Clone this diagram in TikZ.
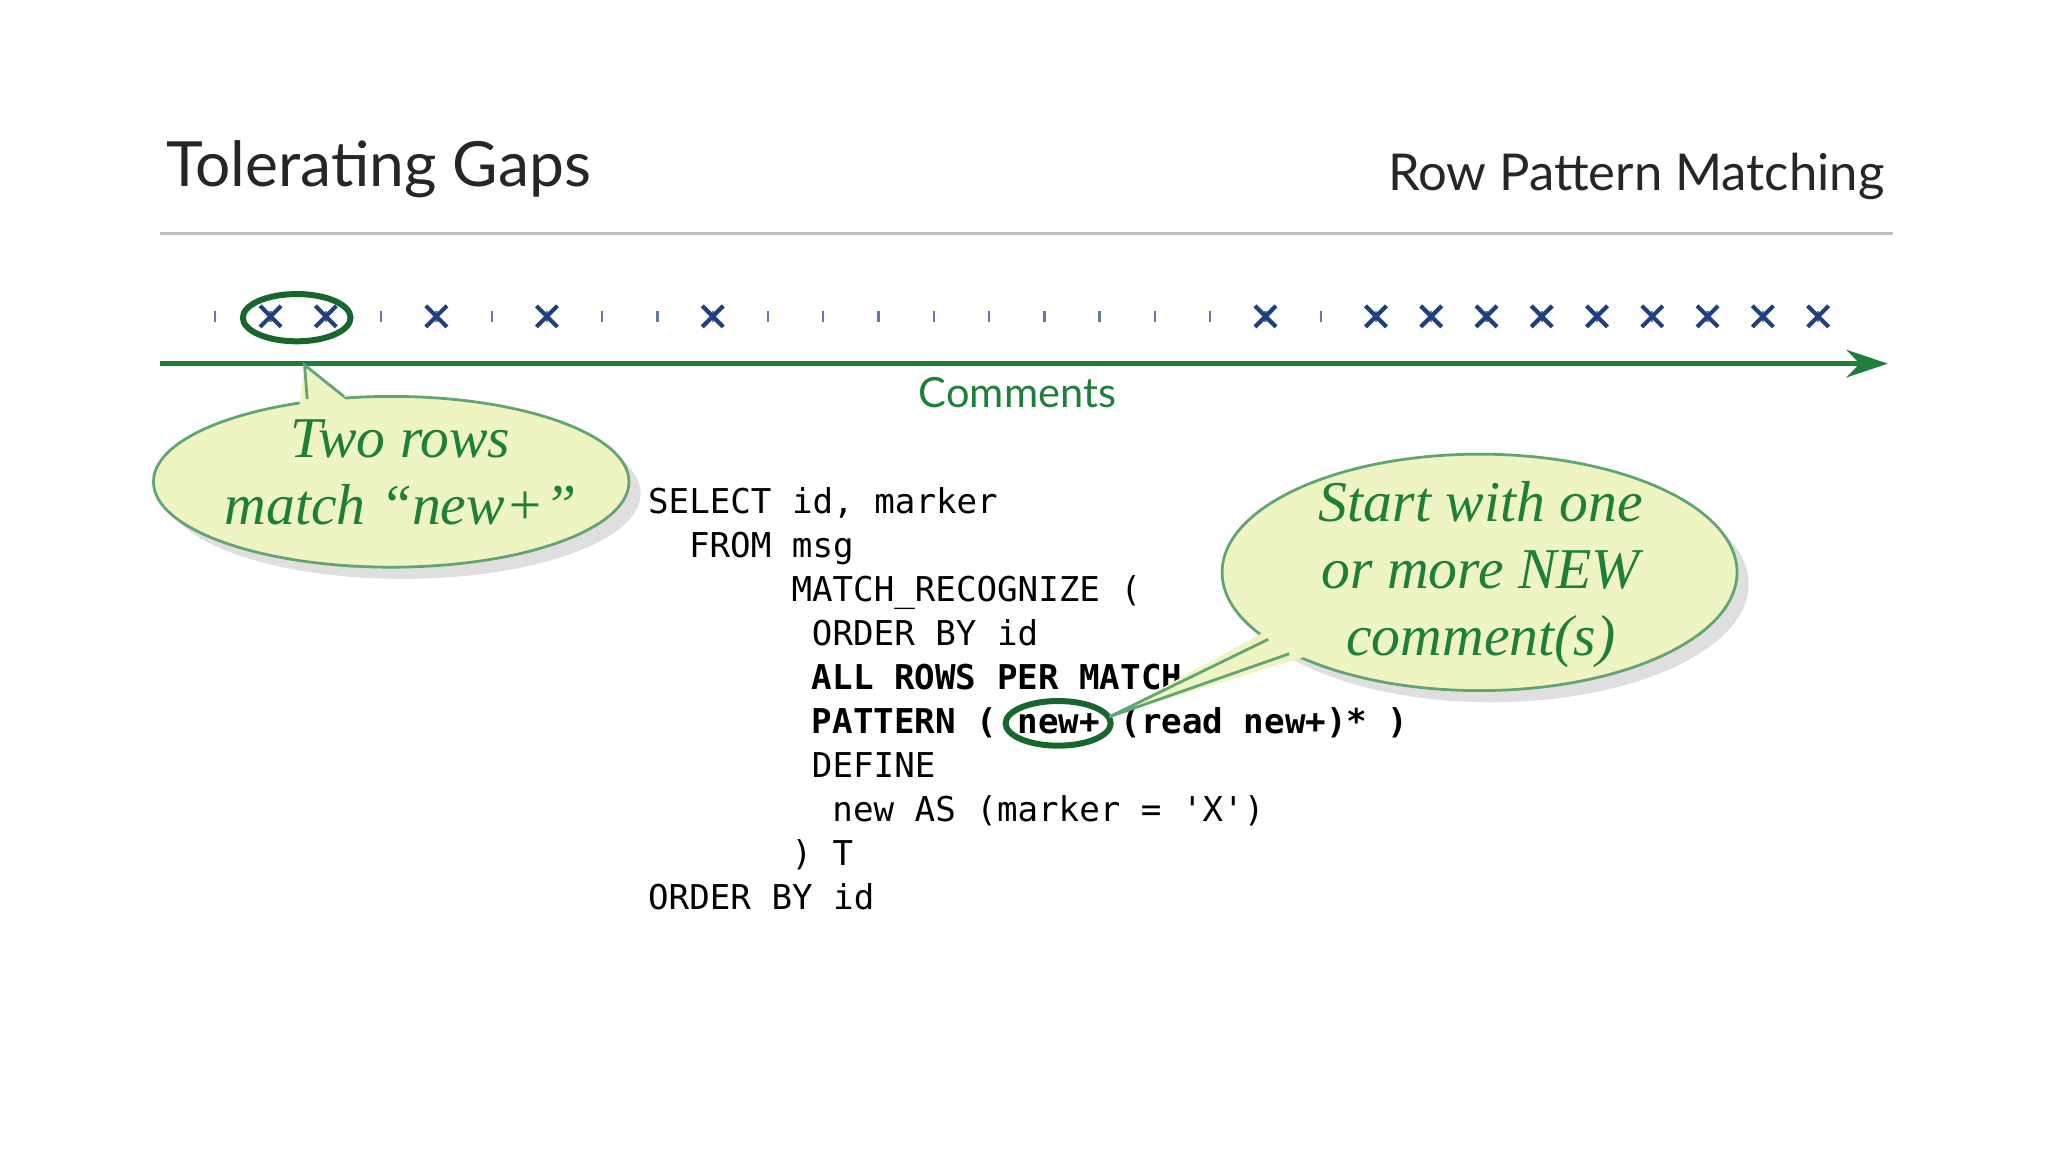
\documentclass[tikz,border=0pt]{standalone}
\usepackage{fontspec}
\setmainfont{Lato}
\setmonofont{DejaVu Sans Mono}
\newfontfamily\handfont{Liberation Serif}
\usetikzlibrary{shapes.geometric,arrows.meta,shadows}
\definecolor{slidegreen}{HTML}{1E7F3A}
\definecolor{markblue}{HTML}{1F3F80}
\definecolor{bubblefill}{HTML}{EEF4C2}

\begin{document}
\begin{tikzpicture}[x=0.01cm,y=-0.01cm,
bubble/.style={ellipse,draw=slidegreen!70,fill=bubblefill,line width=0.6pt,inner sep=0pt,drop shadow={opacity=0.25}},
handtext/.style={text=slidegreen,font=\handfont\itshape\fontsize{12.5}{14.5}\selectfont,align=center},
codeline/.style={anchor=base west,inner sep=0pt,font=\ttfamily\fontsize{7.4}{9}\selectfont},
ring/.style={ellipse,draw=slidegreen!80!black,line width=1.3pt,minimum width=0.82cm,minimum height=0.36cm,inner sep=0pt}]
\useasboundingbox (0,0) rectangle (1560,877);

% titles
\node[anchor=base west,inner sep=0pt,font=\fontsize{13.5}{16}\selectfont,text=black!85] (title) at (126,142) {Tolerating Gaps};
\node[anchor=base east,inner sep=0pt,font=\fontsize{11}{14}\selectfont,text=black!85] (subtitle) at (1436,145) {Row Pattern Matching};
\draw[black!25,line width=0.6pt] (122,178) -- (1442,178);

% timeline
\coordinate (axisL) at (122,277);
\coordinate (axisR) at (1438,277);
\draw[slidegreen,line width=1pt,-{Stealth[length=9pt,width=6pt]}] (axisL) -- (axisR);
\node[text=slidegreen,font=\fontsize{9}{11}\selectfont] (axislabel) at (775,299) {Comments};

\foreach \i in {0,...,29}{
  \coordinate (m\i) at (164+42.1*\i,241);
  \draw[markblue!70,line width=0.5pt] ([yshift=-0.04cm]m\i) -- ([yshift=0.04cm]m\i);
}
\foreach \i in {1,2,4,6,9,19,21,22,23,24,25,26,27,28,29}{
  \draw[markblue,line width=0.9pt] ([shift={(-0.08cm,-0.08cm)}]m\i) -- ([shift={(0.08cm,0.08cm)}]m\i)
    ([shift={(-0.08cm,0.08cm)}]m\i) -- ([shift={(0.08cm,-0.08cm)}]m\i);
}
\node[ring] (ringA) at (226,242) {};

% code
\foreach \txt/\ind [count=\n from 0] in {
  {SELECT id, marker}/0,
  {FROM msg}/2,
  {MATCH\_RECOGNIZE (}/7,
  {ORDER BY id}/8,
  {\bfseries ALL ROWS PER MATCH}/8,
  {\bfseries PATTERN ( new+ (read new+)* )}/8,
  {DEFINE}/8,
  {new AS (marker = 'X')}/9,
  {) T}/7,
  {ORDER BY id}/0}{
  \node[codeline] (code\n) at (493+15.6*\ind,391+33.5*\n) {\txt};
}
\node[ring,minimum width=0.8cm,minimum height=0.34cm] (ringB) at (806,551) {};

% callout one
\node[bubble,minimum width=3.62cm,minimum height=1.3cm] (bubA) at (298,367) {};
\fill[bubblefill] (232,278) -- (228,310) -- (270,310) -- cycle;
\draw[slidegreen!70,line width=0.6pt] (234,304) -- (232,278) -- (262,302);
\node[handtext] (txtA) at (305,360) {Two rows\\match “new+”};

% callout two
\node[bubble,minimum width=3.92cm,minimum height=1.8cm] (bubB) at (1127,436) {};
\fill[bubblefill] (845,546) -- (962,482) -- (995,500) -- cycle;
\draw[slidegreen!70,line width=0.6pt] (966,487) -- (845,546) -- (982,498);
\node[handtext] (txtB) at (1128,438) {Start with one\\or more NEW\\comment(s)};
\end{tikzpicture}
\end{document}
